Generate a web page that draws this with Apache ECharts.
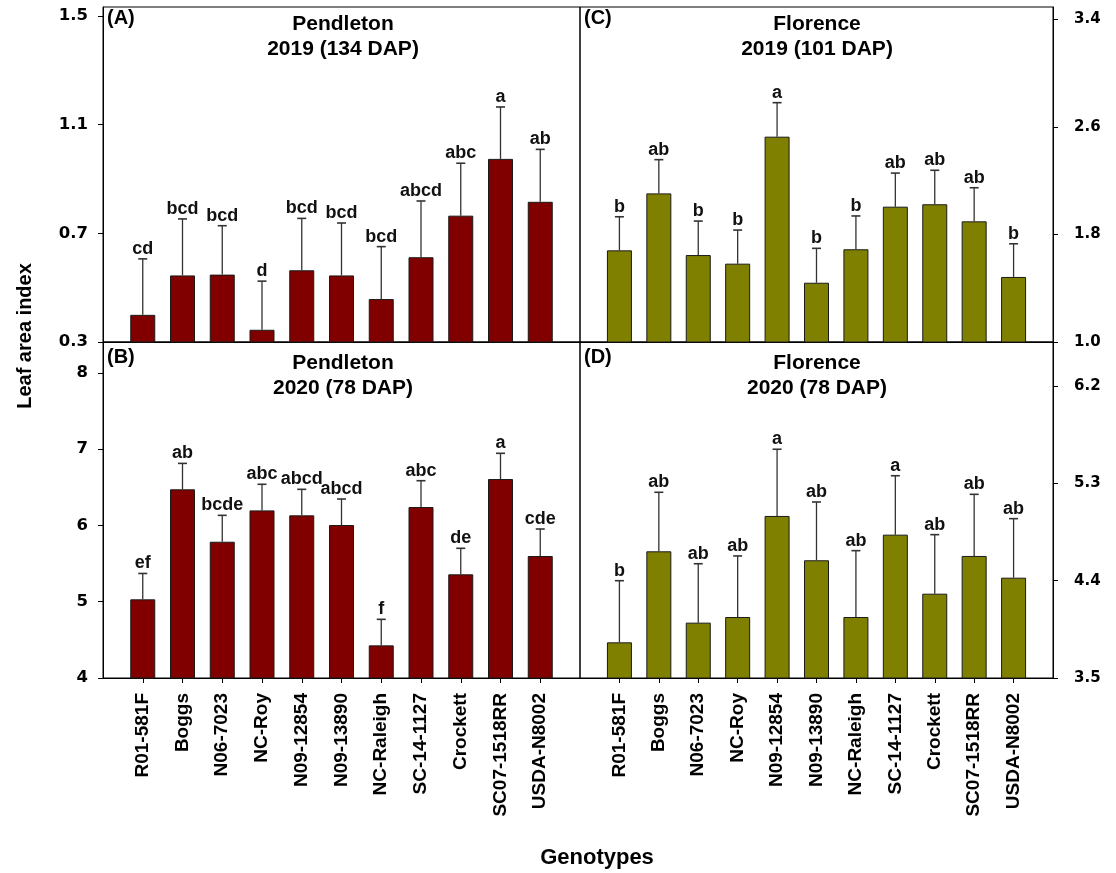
<!DOCTYPE html>
<html><head><meta charset="utf-8">
<script src="https://cdn.jsdelivr.net/npm/echarts@6/dist/echarts.min.js"></script>
<style>html,body{margin:0;padding:0;background:#fff}#c{width:1116px;height:873px}</style>
</head><body><div id="c"></div><script>
const genotypes = ['R01-581F','Boggs','N06-7023','NC-Roy','N09-12854','N09-13890','NC-Raleigh','SC-14-1127','Crockett','SC07-1518RR','USDA-N8002'];

const pendleton2019 = [0.400,0.545,0.548,0.345,0.564,0.545,0.458,0.612,0.765,0.974,0.816];
const pendleton2019SE = [0.206,0.208,0.180,0.179,0.191,0.193,0.193,0.207,0.193,0.191,0.193];
const pendleton2019Letters = ['cd','bcd','bcd','d','bcd','bcd','bcd','abcd','abc','a','ab'];

const pendleton2020 = [5.031,6.473,5.786,6.197,6.132,6.005,4.428,6.241,5.359,6.608,5.599];
const pendleton2020SE = [0.339,0.340,0.346,0.342,0.341,0.341,0.341,0.345,0.341,0.337,0.354];
const pendleton2020Letters = ['ef','ab','bcde','abc','abcd','abcd','f','abc','de','a','cde'];

const florence2019 = [1.682,2.106,1.647,1.583,2.528,1.441,1.690,2.007,2.025,1.898,1.484];
const florence2019SE = [0.250,0.251,0.253,0.250,0.253,0.256,0.248,0.250,0.253,0.250,0.247];
const florence2019Letters = ['b','ab','b','b','a','b','b','ab','ab','ab','b'];

const florence2020 = [3.830,4.672,4.012,4.064,4.999,4.589,4.064,4.826,4.280,4.629,4.428];
const florence2020SE = [0.570,0.546,0.545,0.565,0.617,0.539,0.614,0.545,0.546,0.570,0.546];
const florence2020Letters = ['b','ab','ab','ab','a','ab','ab','a','ab','ab','ab'];

const ticksA = [0.3,0.7,1.1,1.5];
const ticksB = [4,5,6,7,8];
const ticksC = [1.0,1.8,2.6,3.4];
const ticksD = [3.5,4.4,5.3,6.2];

const FONT = '"Liberation Sans", Arial, sans-serif';
const WIDE = '"DejaVu Sans", sans-serif';
const MAROON = '#800000', OLIVE = '#808000';
const cats = [''].concat(genotypes).concat([' ']);

const chart = echarts.init(document.getElementById('c'), null, {renderer:'canvas'});

const grids = [
  {left:103, top:7, width:477, height:335},
  {left:103, top:342, width:477, height:336},
  {left:580, top:7, width:473, height:335},
  {left:580, top:342, width:473, height:336}
].map(g => Object.assign(g, {show:true, borderColor:'#000', borderWidth:1, backgroundColor:'transparent', containLabel:false}));

function xAxis(gi, showLabels){
  return {
    type:'category', gridIndex:gi, data:cats, boundaryGap:false,
    axisLine:{show:true, lineStyle:{color:'#000', width:1}},
    axisTick:{show:showLabels, length:5, inside:false, interval:(i)=> i>0 && i<cats.length-1, lineStyle:{color:'#000'}},
    axisLabel:{show:showLabels, rotate:90, interval:0, margin:15, color:'#000', fontFamily:FONT, fontWeight:'bold', fontSize:19},
    splitLine:{show:false}
  };
}
function yAxis(gi, pos, min, max, ticks, dec, fs, margin){
  return {
    type:'value', gridIndex:gi, position:pos, min:min, max:max,
    axisLine:{show:true, lineStyle:{color:'#000', width:1}},
    axisTick:{show:true, length:5, inside:false, customValues:ticks, lineStyle:{color:'#000'}},
    axisLabel:{show:true, customValues:ticks, margin:margin, color:'#000', fontFamily:WIDE, fontWeight:'bold', fontSize:fs,
      formatter:(v)=> v.toFixed(dec)},
    splitLine:{show:false}
  };
}

function barSeries(ai, vals, color){
  return {
    type:'bar', xAxisIndex:ai, yAxisIndex:ai, barWidth:25,
    data:[null].concat(vals).concat([null]),
    itemStyle:{color:color, borderColor:'#1a1a1a', borderWidth:1},
    clip:true, z:2, silent:true
  };
}
function errSeries(ai, vals, se, letters){
  return {
    type:'custom', xAxisIndex:ai, yAxisIndex:ai, z:3, silent:true,
    data: vals.map((v,i)=>[i+1, v, v+se[i]]),
    renderItem:(params, api)=>{
      const x = api.value(0), m = api.value(1), t = api.value(2);
      const p0 = api.coord([x,m]), p1 = api.coord([x,t]);
      return {type:'group', children:[
        {type:'line', shape:{x1:p0[0], y1:p0[1], x2:p1[0], y2:p1[1]}, style:{stroke:'#333', lineWidth:1.3}},
        {type:'line', shape:{x1:p1[0]-4.5, y1:p1[1], x2:p1[0]+4.5, y2:p1[1]}, style:{stroke:'#333', lineWidth:1.6}},
        {type:'text', x:p1[0], y:p1[1]-1, style:{text:letters[params.dataIndex], align:'center', verticalAlign:'bottom',
          font:'bold 18px ' + FONT, fill:'#111'}}
      ]};
    }
  };
}

function txt(x, y, s, size, extra){
  return Object.assign({type:'text', x:x, y:y, style:{text:s, align:'center', verticalAlign:'middle', font:'bold '+size+'px '+FONT, fill:'#000'}}, extra||{});
}
function corner(x, y, s){
  return {type:'text', x:x, y:y, style:{text:s, align:'left', verticalAlign:'middle', font:'bold 20px '+FONT, fill:'#000'}};
}

const option = {
  animation:false,
  backgroundColor:'#fff',
  grid:grids,
  xAxis:[xAxis(0,false), xAxis(1,true), xAxis(2,false), xAxis(3,true)],
  yAxis:[
    yAxis(0,'left',0.3,1.533,ticksA,1,16.5,15),
    yAxis(1,'left',4,8.404,ticksB,0,16.5,15),
    yAxis(2,'right',1.0,3.493,ticksC,1,15,21),
    yAxis(3,'right',3.5,6.608,ticksD,1,15,21)
  ],
  series:[
    barSeries(0, pendleton2019, MAROON), errSeries(0, pendleton2019, pendleton2019SE, pendleton2019Letters),
    barSeries(1, pendleton2020, MAROON), errSeries(1, pendleton2020, pendleton2020SE, pendleton2020Letters),
    barSeries(2, florence2019, OLIVE), errSeries(2, florence2019, florence2019SE, florence2019Letters),
    barSeries(3, florence2020, OLIVE), errSeries(3, florence2020, florence2020SE, florence2020Letters)
  ],
  graphic:[
    txt(343, 24, 'Pendleton', 21), txt(343, 49, '2019 (134 DAP)', 21),
    txt(343, 363, 'Pendleton', 21), txt(343, 388, '2020 (78 DAP)', 21),
    txt(817, 24, 'Florence', 21), txt(817, 49, '2019 (101 DAP)', 21),
    txt(817, 363, 'Florence', 21), txt(817, 388, '2020 (78 DAP)', 21),
    corner(107, 18, '(A)'), corner(107, 357, '(B)'),
    corner(584, 18, '(C)'), corner(584, 357, '(D)'),
    txt(25, 336, 'Leaf area index', 20, {rotation:Math.PI/2}),
    txt(597, 858, 'Genotypes', 22)
  ]
};
chart.setOption(option);
</script></body></html>
